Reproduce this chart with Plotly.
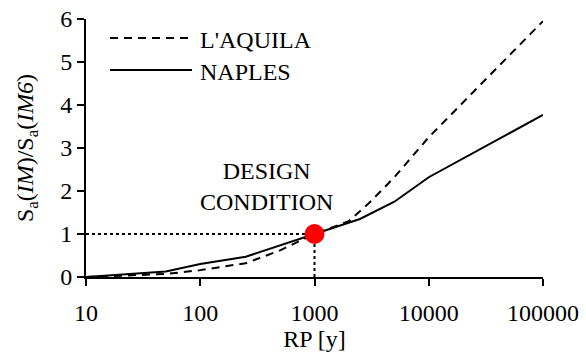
import plotly.graph_objects as go

rp_aquila = [10, 50, 100, 250, 500, 1000, 2000, 3000, 5000, 10000, 100000]
sa_aquila = [0, 0.07, 0.16, 0.32, 0.62, 1.0, 1.3, 1.72, 2.32, 3.25, 5.95]

rp_naples = [10, 50, 100, 250, 1000, 2500, 5000, 10000, 100000]
sa_naples = [0, 0.13, 0.3, 0.47, 1.0, 1.35, 1.75, 2.32, 3.77]

design_rp = [1000]
design_sa = [1]

FONT = "Liberation Serif"
FS = 24

fig = go.Figure()
fig.add_trace(go.Scatter(x=[10, design_rp[0]], y=[design_sa[0], design_sa[0]], mode="lines",
                         line=dict(color="black", width=2, dash="dot"), showlegend=False))
fig.add_trace(go.Scatter(x=[design_rp[0], design_rp[0]], y=[0, design_sa[0]], mode="lines",
                         line=dict(color="black", width=2, dash="dot"), showlegend=False))
fig.add_trace(go.Scatter(x=rp_aquila, y=sa_aquila, mode="lines", name="L'AQUILA",
                         line=dict(color="black", width=2, dash="8px,6px"), showlegend=False))
fig.add_trace(go.Scatter(x=rp_naples, y=sa_naples, mode="lines", name="NAPLES",
                         line=dict(color="black", width=2), showlegend=False))
fig.add_trace(go.Scatter(x=design_rp, y=design_sa, mode="markers",
                         marker=dict(color="red", size=20), showlegend=False))

# manual legend
W, H = 586, 356
L, R, T, B = 86, 43, 19, 79
pw, ph = W - L - R, H - T - B
def px(x): return (x - L) / pw
def py(y): return 1 - (y - T) / ph

fig.add_shape(type="line", xref="paper", yref="paper", x0=px(110), x1=px(192), y0=py(38), y1=py(38),
              line=dict(color="black", width=2, dash="8px,6px"))
fig.add_shape(type="line", xref="paper", yref="paper", x0=px(110), x1=px(192), y0=py(70), y1=py(70),
              line=dict(color="black", width=2))
fig.add_annotation(xref="paper", yref="paper", x=px(198), y=py(40), text="L'AQUILA", showarrow=False,
                   xanchor="left", yanchor="middle", font=dict(family=FONT, size=FS, color="black"))
fig.add_annotation(xref="paper", yref="paper", x=px(198), y=py(72), text="NAPLES", showarrow=False,
                   xanchor="left", yanchor="middle", font=dict(family=FONT, size=FS, color="black"))
fig.add_annotation(xref="paper", yref="paper", x=px(266), y=py(186), text="DESIGN<br>CONDITION",
                   showarrow=False, xanchor="center", yanchor="middle",
                   font=dict(family=FONT, size=FS, color="black"))

fig.update_layout(
    width=W, height=H,
    margin=dict(l=L, r=R, t=T, b=B, autoexpand=False),
    plot_bgcolor="white", paper_bgcolor="white",
    font=dict(family=FONT, size=FS, color="black"),
)
fig.update_xaxes(type="log", range=[1, 5], tickvals=[10, 100, 1000, 10000, 100000],
                 ticktext=["10", "100", "1000", "10000", "100000"],
                 tickfont=dict(family=FONT, size=FS), automargin=False, ticklabelstandoff=6,
                 showgrid=False, zeroline=False, showline=True, linecolor="black", linewidth=2,
                 ticks="outside", ticklen=7, tickwidth=2, tickcolor="black",
                 title=dict(text="RP [y]", standoff=4, font=dict(family=FONT, size=FS)))
fig.update_yaxes(range=[0, 6], tickvals=[0, 1, 2, 3, 4, 5, 6],
                 tickfont=dict(family=FONT, size=FS), automargin=False,
                 showgrid=False, zeroline=False, showline=True, linecolor="black", linewidth=2,
                 ticks="outside", ticklen=7, tickwidth=2, tickcolor="black",
                 title=dict(text="S<sub>a</sub>(<i>IM</i>)/S<sub>a</sub>(<i>IM6</i>)", standoff=20,
                            font=dict(family=FONT, size=FS)))

fig.write_html("out.html")
